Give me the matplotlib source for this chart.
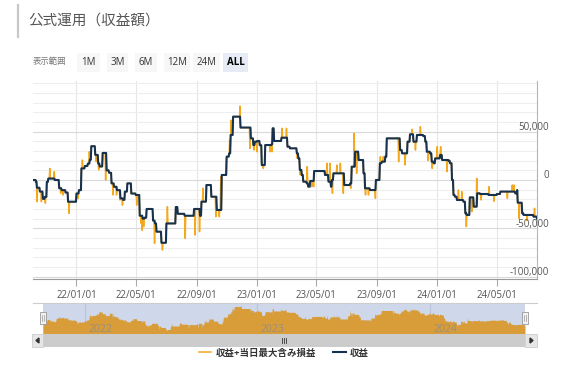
import numpy as np
import pandas as pd
import matplotlib as mplt
mplt.use('Agg')
import matplotlib.pyplot as plt
import matplotlib.dates as mdates
from matplotlib.patches import Rectangle, Polygon

plt.rcParams['font.family'] = ['Open Sans', 'Noto Sans CJK JP', 'DejaVu Sans']

# 収益: step changes (date, value in thousand yen)
profit_dates = [
    '2021-10-05', '2021-10-11', '2021-10-13', '2021-10-19', '2021-10-25', '2021-10-29',
    '2021-11-02', '2021-11-05', '2021-11-18', '2021-11-27', '2021-12-02', '2021-12-10',
    '2021-12-15', '2022-01-01', '2022-01-06', '2022-01-11', '2022-01-18', '2022-01-24',
    '2022-01-28', '2022-01-31', '2022-02-08', '2022-02-14', '2022-02-17', '2022-02-23',
    '2022-03-03', '2022-03-08', '2022-03-13', '2022-03-18', '2022-03-24', '2022-03-31',
    '2022-04-05', '2022-04-09', '2022-04-14', '2022-04-22', '2022-05-01', '2022-05-09',
    '2022-05-15', '2022-05-19', '2022-05-23', '2022-06-05', '2022-06-09', '2022-06-12',
    '2022-06-22', '2022-07-02', '2022-07-21', '2022-07-25', '2022-08-08', '2022-08-27',
    '2022-09-08', '2022-09-11', '2022-09-21', '2022-10-01', '2022-10-12', '2022-10-22',
    '2022-11-01', '2022-11-06', '2022-11-09', '2022-11-14', '2022-11-29', '2022-12-20',
    '2022-12-25', '2022-12-28', '2023-01-02', '2023-01-07', '2023-01-11', '2023-01-18',
    '2023-01-31', '2023-02-02', '2023-02-05', '2023-02-20', '2023-03-04', '2023-03-09',
    '2023-03-23', '2023-03-26', '2023-03-29', '2023-04-02', '2023-04-05', '2023-04-12',
    '2023-04-15', '2023-04-19', '2023-04-27', '2023-05-19', '2023-05-26', '2023-05-31',
    '2023-06-02', '2023-06-05', '2023-06-27', '2023-07-09', '2023-07-12', '2023-07-19',
    '2023-07-26', '2023-08-05', '2023-08-08', '2023-08-18', '2023-08-30', '2023-09-07',
    '2023-09-11', '2023-09-18', '2023-09-21', '2023-10-18', '2023-10-22', '2023-11-02',
    '2023-11-07', '2023-11-14', '2023-11-21', '2023-12-04', '2023-12-08', '2023-12-11',
    '2023-12-18', '2023-12-21', '2023-12-25', '2023-12-28', '2024-01-07', '2024-01-11',
    '2024-01-24', '2024-01-27', '2024-01-31', '2024-02-03', '2024-02-06', '2024-02-10',
    '2024-02-23', '2024-02-27', '2024-03-01', '2024-03-07', '2024-03-15', '2024-03-22',
    '2024-03-28', '2024-04-14', '2024-05-01', '2024-05-08', '2024-06-07', '2024-06-11',
    '2024-06-12', '2024-06-21', '2024-06-24', '2024-07-14', '2024-07-21',
]
profit_vals = [
    0, -1.7, -8, -12, -19.5, -17.5,
    -2, 1.5, 0, -8.5, -10.5, -13,
    -22.5, -14, -10.5, 12, 14.5, 17,
    21, 35, 26, 17, 14, 28,
    10, 7.5, -3.5, -7, -10.5, -19,
    -20.5, -12, -3.5, -14, -15.5, -37,
    -40, -39, -30, -42, -45, -53.5,
    -65, -45, -28, -35, -37, -30,
    -37, -22.4, -5.2, -17.3, -31, 5.2,
    24.2, 27.6, 46.6, 65.6, 54.3, 43.1,
    36.2, 39.7, 40.4, 36, 15.5, 36.2,
    37, 53.5, 40.4, 43.8, 34.5, 32.8,
    27.6, 22.4, 10.4, 5.2, -1.7, -3.5,
    -6.9, -1, 9.3, 5.2, -1.7, -6.9,
    0, 6.9, -5.2, -3.5, 13.8, 29.3,
    20.7, 6.9, -8.6, -10.4, 0, 17.3,
    19, 24.2, 43.1, 31, 27.6, 39.7,
    47.3, 39.7, 46.6, 45.5, 39.7, 29.3,
    27.6, 19, 17.3, 22.4, 25.9, 20.7,
    20, 17.3, 0, -15.5, -17.3, -20.7,
    -22.4, -34.5, -36.2, -18, -27.6, -13.8,
    -14.5, -15.5, -14.5, -12, -13.8, -10.4,
    -23.5, -34.5, -36.2, -37.9, -40,
]

# 収益+当日最大含み損益: days where it differs from 収益 (thousand yen)
spike_dates = [
    '2021-10-13', '2021-10-22', '2021-10-30', '2021-11-08', '2021-11-17', '2021-11-30',
    '2021-12-05', '2021-12-17', '2022-01-04', '2022-01-13', '2022-01-27', '2022-02-10',
    '2022-02-15', '2022-03-01', '2022-03-16', '2022-03-23', '2022-03-30', '2022-04-04',
    '2022-05-03', '2022-05-12', '2022-05-14', '2022-05-17', '2022-06-08', '2022-06-24',
    '2022-07-04', '2022-08-09', '2022-08-29', '2022-09-07', '2022-09-14', '2022-10-10',
    '2022-10-17', '2022-10-20', '2022-10-31', '2022-11-07', '2022-11-10', '2022-11-28',
    '2022-12-18', '2022-12-26', '2023-01-01', '2023-01-14', '2023-01-28', '2023-02-01',
    '2023-02-21', '2023-03-02', '2023-03-24', '2023-03-30', '2023-04-13', '2023-04-22',
    '2023-04-26', '2023-05-23', '2023-05-29', '2023-06-03', '2023-06-12', '2023-06-19',
    '2023-06-25', '2023-07-10', '2023-07-17', '2023-07-22', '2023-08-09', '2023-08-15',
    '2023-08-29', '2023-09-08', '2023-09-14', '2023-10-15', '2023-10-28', '2023-11-11',
    '2023-11-18', '2023-11-28', '2023-12-14', '2023-12-22', '2024-01-01', '2024-01-08',
    '2024-01-21', '2024-02-13', '2024-02-20', '2024-02-29', '2024-03-11', '2024-03-21',
    '2024-03-30', '2024-04-15', '2024-04-25', '2024-05-22', '2024-06-01', '2024-06-04',
    '2024-06-15', '2024-07-01', '2024-07-16',
]
spike_vals = [
    -22.4, -22.4, -24, 12, 8.6, -13.8,
    -15.5, -34.5, -19, 20.7, 29.3, 19,
    10.4, 0, -15.5, -15.5, -20.7, -26,
    -26, -45, -52, -48.3, -65.6, -72.5,
    -27.6, -60.4, -57, -53.5, -8.6, -38,
    -38, 3.5, 20.7, 41.4, 62, 76.6,
    32.8, 31, 29.3, 12, 29.3, 29.3,
    53.5, 53.5, 22.4, 5.2, 13.8, -6.9,
    -6.9, 17.3, 17.3, -13.8, 15.5, 17.3,
    -13.8, -8.6, 48.3, 6.9, -15.5, -15.5,
    -19, 24.2, 24.2, 19, 15.5, 52.4,
    31, 55.2, 20, 12, 34.5, 34.5,
    8.6, -10.4, -12, -48.3, -32.8, 1.7,
    -20.7, -6.9, -22, -19, -5.2, -5.2,
    -40, -42, -29.3,
]

title = '公式運用（収益額）'
range_label = '表示範囲'
buttons = ['1M', '3M', '6M', '12M', '24M', 'ALL']
series_names = ['収益+当日最大含み損益', '収益']
x_ticks = ['2022-01-01', '2022-05-01', '2022-09-01', '2023-01-01',
           '2023-05-01', '2023-09-01', '2024-01-01', '2024-05-01']
y_ticks = [-100000, -50000, 0, 50000]
nav_years = ['2022-01-01', '2023-01-01', '2024-01-01']

ORANGE = '#f4a81d'
NAVY = '#16324f'
GOLD = '#d89c38'

# daily series
days = pd.date_range(profit_dates[0], profit_dates[-1], freq='D')
profit = pd.Series(np.array(profit_vals) * 1000, index=pd.to_datetime(profit_dates))
profit = profit.reindex(days, method='ffill')
combined = profit.copy()
combined[pd.to_datetime(spike_dates)] = np.array(spike_vals) * 1000

W, H = 569, 375
fig = plt.figure(figsize=(W / 100, H / 100), dpi=100)


def box(x0, y0, x1, y1):
    return [x0 / W, 1 - y1 / H, (x1 - x0) / W, (y1 - y0) / H]


# main chart
ax = fig.add_axes(box(33, 81, 537, 279))
l1, = ax.plot(days, combined, color=ORANGE, lw=1.1, zorder=3)
l2, = ax.plot(days, profit, color=NAVY, lw=1.5, zorder=4)
ax.set_xlim(days[0], days[-1])
ax.set_ylim(-102500, 102500)

ax.set_xticks(pd.to_datetime(x_ticks))
ax.xaxis.set_major_formatter(mdates.DateFormatter('%y/%m/%d'))
ax.tick_params(axis='x', length=5, color='#aaaaaa', labelsize=7, labelcolor='#555555', pad=3)

ax.set_yticks(y_ticks)
ax.set_yticks(np.arange(-100000, 100001, 10000), minor=True)
ax.set_yticklabels([])
ax.tick_params(axis='y', which='both', length=0, left=False, right=False)
for v in y_ticks:
    ax.annotate(f'{v:,}', xy=(1, v), xycoords=ax.get_yaxis_transform(),
                xytext=(8.6, 3), textcoords='offset points',
                ha='right', va='center', fontsize=7, color='#555555')

ax.grid(which='minor', axis='y', color='#eeeeee', lw=0.8, zorder=0)
ax.grid(which='major', axis='y', color='#d9d9d9', lw=0.8, zorder=0)
ax.grid(which='major', axis='x', color='#e6e6e6', lw=0.8, zorder=0)
ax.set_axisbelow(True)
for s in ['top', 'left']:
    ax.spines[s].set_visible(False)
ax.spines['bottom'].set_color('#999999')
ax.spines['right'].set_color('#b5b5b5')
ax.spines['right'].set_linewidth(0.8)

# navigator
nav = fig.add_axes(box(43, 303, 525, 334))
nav.set_facecolor('#cfd8ea')
lo, hi = combined.min(), combined.max()
span = hi - lo
nav.set_ylim(lo - 0.12 * span, hi + 0.06 * span)
nav.set_xlim(days[0], days[-1])
nav.fill_between(days, combined, lo - 0.12 * span, color=GOLD, lw=0, zorder=2)
for yr in nav_years:
    t = mdates.date2num(pd.Timestamp(yr))
    nav.axvline(t, color='#bcc5d8', lw=0.8, zorder=1)
    nav.annotate(yr[:4], xy=(t, 0), xycoords=nav.get_xaxis_transform(),
                 xytext=(2.5, 1.2), textcoords='offset points', fontsize=7.5,
                 color='#9a9080', zorder=3)
nav.set_xticks([])
nav.set_yticks([])
for s in nav.spines.values():
    s.set_visible(False)

# decorations in pixel coordinates
deco = fig.add_axes([0, 0, 1, 1], zorder=10)
deco.set_xlim(0, W)
deco.set_ylim(H, 0)
deco.axis('off')

deco.plot([18, 18], [5, 37], color='#c8c8c8', lw=1.6)
deco.text(28, 21, title, fontsize=10.5, color='#555555', va='center', ha='left')
deco.text(33, 62, range_label, fontsize=6, color='#777777', va='center', ha='left')

btn_left = [77, 107, 135, 164, 193, 223]
btn_w = [23, 21, 22, 26, 27, 25]
for name, bx, bw in zip(buttons, btn_left, btn_w):
    sel = name == 'ALL'
    deco.add_patch(Rectangle((bx, 53), bw, 19, facecolor='#e6ebf5' if sel else '#f7f7f7',
                             edgecolor='none'))
    deco.text(bx + bw / 2, 62.5, name, fontsize=7, ha='center', va='center',
              color='#000000' if sel else '#333333', weight='bold' if sel else 'normal')

# navigator outline + handles
deco.plot([33, 537], [302.5, 302.5], color='#cccccc', lw=0.8)
for hx in [43, 525]:
    deco.add_patch(Rectangle((hx - 3, 312), 6, 12, facecolor='#f2f2f2',
                             edgecolor='#999999', lw=0.6))
    deco.plot([hx - 1, hx - 1], [315, 321], color='#999999', lw=0.5)
    deco.plot([hx + 1, hx + 1], [315, 321], color='#999999', lw=0.5)

# scrollbar
deco.add_patch(Rectangle((32, 334), 505, 13, facecolor='#f2f2f2', edgecolor='none'))
deco.add_patch(Rectangle((43, 334), 482, 13, facecolor='#cccccc', edgecolor='none'))
deco.add_patch(Rectangle((32, 334), 11, 13, facecolor='#e6e6e6', edgecolor='#cccccc', lw=0.6))
deco.add_patch(Rectangle((525, 334), 12, 13, facecolor='#e6e6e6', edgecolor='#cccccc', lw=0.6))
deco.add_patch(Polygon([[39, 338], [39, 343], [36, 340.5]], closed=True, color='#333333'))
deco.add_patch(Polygon([[530, 338], [530, 343], [533, 340.5]], closed=True, color='#333333'))
for gx in [282, 284, 286]:
    deco.plot([gx, gx], [338, 343], color='#333333', lw=0.6)

# legend
fig.legend(handles=[l1, l2], labels=series_names, loc='center',
           bbox_to_anchor=(284 / W, 1 - 353 / H), ncol=2, frameon=False,
           prop={'weight': 'bold', 'size': 6.8}, labelcolor='#333333',
           handlelength=1.3, columnspacing=1.8, handletextpad=0.5)

fig.savefig('out.png', dpi=100)
